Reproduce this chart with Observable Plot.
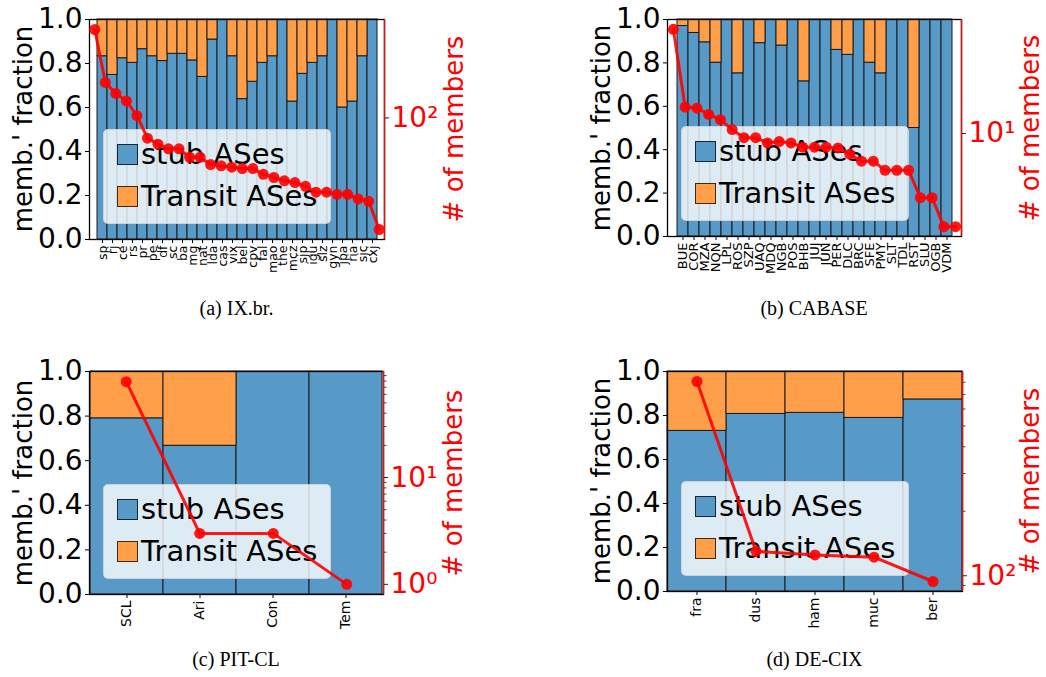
<!DOCTYPE html>
<html><head><meta charset="utf-8">
<script src="https://cdn.jsdelivr.net/npm/d3@7"></script>
<script src="https://cdn.jsdelivr.net/npm/@observablehq/plot@0.6"></script>
<style>
body{margin:0;background:#fff;}
#fig{position:relative;width:1046px;height:677px;overflow:hidden;font-family:"DejaVu Sans",sans-serif;background:#fff;}
#fig svg{position:absolute;}
.legend{position:absolute;background:rgba(255,255,255,0.8);border:1px solid rgba(204,204,204,0.8);border-radius:5px;box-sizing:border-box;}
.lrow{position:absolute;left:13px;height:22px;display:flex;align-items:center;white-space:nowrap;}
.sw{width:21px;height:21px;box-sizing:border-box;border:1px solid rgba(0,0,0,0.75);margin-right:3px;}
.lt{font-size:29px;color:#000;line-height:22px;}
.alab{position:absolute;white-space:nowrap;transform:translate(-50%,-50%) rotate(-90deg);font-size:26px;line-height:26px;}
.cap{position:absolute;transform:translateX(-50%);font-family:"Liberation Serif","DejaVu Serif",serif;font-size:20px;white-space:nowrap;}
</style></head><body><div id="fig"></div><script>
// ---- data ----
const ixbrCodes = ["sp","rj","ce","rs","pr","pe","df","sc","ba","mg","nat","lda","cas","vix","bel","cpv","fal","mao","the","mcz","sjp","igu","slz","gyn","jpa","ria","sjc","cxj"];
const ixbrStub = [0.833,0.748,0.824,0.803,0.865,0.833,0.811,0.844,0.844,0.814,0.739,0.909,1,0.833,0.638,0.717,0.803,0.833,1,0.627,0.753,0.803,0.833,1,0.60,0.627,0.833,1];
const ixbrMembers = [475,187,154,135,104,70,63,58,58,50,50,44,43,42,41,41,37,35,33,32,30,27,27,26,26,24,23,14];

const cabaseCodes = ["BUE","COR","MZA","NQN","LPL","ROS","SZP","UAQ","MDQ","NGB","POS","BHB","JUJ","JUN","PER","DLC","BRC","SFE","PMY","SLT","TDL","RST","SLU","OGB","VDM"];
const cabaseStub = [0.97,0.938,0.895,0.801,1,0.752,1,0.891,1,0.880,1,0.715,1,1,0.860,0.837,1,0.801,0.752,1,1,0.5,1,1,1];
const cabaseMembers = [60.5,15.8,15.5,13.9,12.7,10.7,9.3,9.3,8.5,8.7,8.5,7.9,7.9,7.9,7.8,7.0,6.2,6.2,5.3,5.3,5.3,3.3,3.3,2.0,2.0];

const pitclCodes = ["SCL","Ari","Con","Tem"];
const pitclStub = [0.79,0.667,1,1];
const pitclMembers = [79,3,3,1];

const decixCodes = ["fra","dus","ham","muc","ber"];
const decixStub = [0.730,0.807,0.812,0.789,0.873];
const decixMembers = [806,130,125,122,94];

const fracTicks = [0,0.2,0.4,0.6,0.8,1.0];
const legendLabels = ["stub ASes","Transit ASes"];
const yLabelLeft = "memb.' fraction";
const yLabelRight = "# of members";

// ---- styles ----
const BLUE = "#5799c7", ORANGE = "#ff9f4a";
const SUP = {"-1":"⁻¹",0:"⁰",1:"¹",2:"²",3:"³"};
const W = 523, H = 300;

const panels = [
  {codes: ixbrCodes, stub: ixbrStub, members: ixbrMembers, caption: "(a) IX.br.", ox: 0, oy: 0, mL: 89, mR: 139, mT: 19, mB: 61, xFont: 12.5, major: [100], minor: []},
  {codes: cabaseCodes, stub: cabaseStub, members: cabaseMembers, caption: "(b) CABASE", ox: 523, oy: 0, mL: 144, mR: 85, mT: 19, mB: 64, xFont: 13, major: [10], minor: []},
  {codes: pitclCodes, stub: pitclStub, members: pitclMembers, caption: "(c) PIT-CL", ox: 0, oy: 340, mL: 89, mR: 140, mT: 31, mB: 46, xFont: 14, major: [1,10], minor: [2,3,4,5,6,7,8,9,20,30,40,50,60,70,80,90]},
  {codes: decixCodes, stub: decixStub, members: decixMembers, caption: "(d) DE-CIX", ox: 523, oy: 340, mL: 144, mR: 84, mT: 31, mB: 49, xFont: 14, major: [100], minor: [90,200,300,400,500,600,700,800,900]}
];

const fig = document.getElementById("fig");

function place(el, x, y) { el.style.left = x + "px"; el.style.top = y + "px"; fig.appendChild(el); }

for (const p of panels) {
  const n = p.codes.length;
  const rows = p.codes.map((c, i) => ({code: c, stub: p.stub[i], members: p.members[i], i}));
  const common = {width: W, height: H, marginLeft: p.mL, marginRight: p.mR, marginTop: p.mT, marginBottom: p.mB};
  const style = {background: "transparent", overflow: "visible", fontFamily: "DejaVu Sans", color: "black"};

  const bars = Plot.plot({
    ...common, style,
    x: {type: "band", domain: p.codes, padding: 0},
    y: {domain: [0, 1]},
    marks: [
      Plot.barY(rows, {x: "code", y1: 0, y2: "stub", fill: BLUE, stroke: "#1a1a1a", strokeWidth: 1}),
      Plot.barY(rows, {x: "code", y1: "stub", y2: 1, fill: ORANGE, stroke: "#1a1a1a", strokeWidth: 1}),
      Plot.frame({stroke: "black", strokeWidth: 1.3}),
      Plot.axisY({ticks: fracTicks, tickFormat: d3.format(".1f"), fontSize: 28, tickSize: 4, tickPadding: 3, label: null}),
      Plot.axisX({tickRotate: -90, fontSize: p.xFont, tickSize: 4, tickPadding: 2, label: null})
    ]
  });
  place(bars, p.ox, p.oy);

  // legend
  const plotLeft = p.ox + p.mL, plotRight = p.ox + W - p.mR, plotTop = p.oy + p.mT, plotBottom = p.oy + H - p.mB;
  const lg = document.createElement("div");
  lg.className = "legend";
  lg.style.width = "228px"; lg.style.height = "95px";
  [BLUE, ORANGE].forEach((col, k) => {
    const row = document.createElement("div");
    row.className = "lrow";
    row.style.top = (k === 0 ? 13 : 55) + "px";
    const sw = document.createElement("div"); sw.className = "sw"; sw.style.background = col;
    const t = document.createElement("span"); t.className = "lt"; t.textContent = legendLabels[k];
    row.appendChild(sw); row.appendChild(t); lg.appendChild(row);
  });
  place(lg, plotLeft + 14, plotBottom - 15 - 95);

  // axis labels
  const ll = document.createElement("div"); ll.className = "alab"; ll.textContent = yLabelLeft;
  place(ll, plotLeft - 66, (plotTop + plotBottom) / 2);
  const rl = document.createElement("div"); rl.className = "alab"; rl.textContent = yLabelRight; rl.style.color = "red";
  place(rl, Math.min(plotRight + 70, 1030), (plotTop + plotBottom) / 2);

  // overlay: members on log scale
  const ext = d3.extent(p.members);
  const r = Math.log10(ext[1] / ext[0]);
  const pad = Math.pow(10, 0.05 * r);
  const dom = [ext[0] / pad, ext[1] * pad];
  const minor = p.minor.filter(v => v >= dom[0] && v <= dom[1]);
  const overlayMarks = [
    Plot.ruleX([n - 0.5], {stroke: "#d01818", strokeWidth: 1.5}),
    Plot.axisY({anchor: "right", ticks: p.major, tickFormat: d => "10" + SUP[Math.round(Math.log10(d))], fontSize: 28, tickSize: 4, tickPadding: 3, fill: "red", stroke: "#222", label: null}),
    Plot.lineY(rows, {x: "i", y: "members", stroke: "red", strokeWidth: 3, strokeOpacity: 0.9}),
    Plot.dot(rows, {x: "i", y: "members", r: 5.5, fill: "red", fillOpacity: 0.9})
  ];
  if (minor.length) overlayMarks.splice(1, 0, Plot.axisY({anchor: "right", ticks: minor, tickSize: 2.5, fill: "none", stroke: "#444", label: null}));
  const over = Plot.plot({
    ...common, style,
    x: {type: "linear", domain: [-0.5, n - 0.5], axis: null},
    y: {type: "log", domain: dom},
    marks: overlayMarks
  });
  place(over, p.ox, p.oy);

  const cap = document.createElement("div"); cap.className = "cap"; cap.textContent = p.caption;
  place(cap, (plotLeft + plotRight) / 2, p.oy + (p.oy === 0 ? 297 : 308));
}
</script></body></html>
